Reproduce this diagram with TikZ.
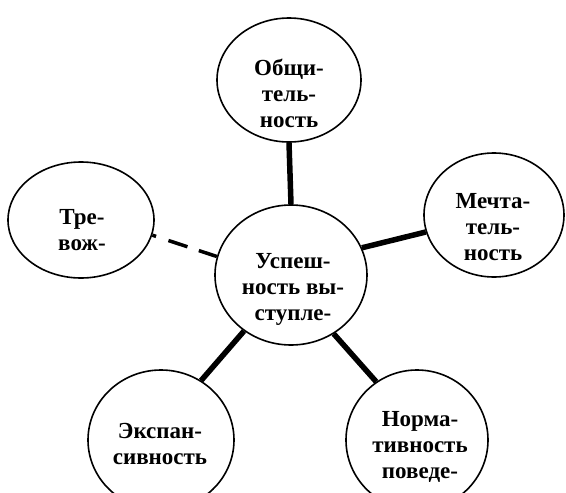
\documentclass[tikz,border=0pt]{standalone}
\usepackage{fontspec}
\setmainfont{Liberation Serif}
\usetikzlibrary{shapes.geometric}
\begin{document}
\begin{tikzpicture}[x=1pt,y=-1pt,
  bub/.style={draw=black, line width=1.6pt, ellipse, inner sep=0pt, fill=white},
  txt/.style={align=center, font=\fontsize{23}{26}\selectfont\bfseries, inner sep=0pt},
  link/.style={line width=5.5pt, black},
  dlink/.style={line width=3.5pt, black, dash pattern=on 4pt off 13pt on 20pt off 12pt on 20pt off 12pt}]
\useasboundingbox (0,0) rectangle (566,493);
\clip (0,0) rectangle (566,493);
\fill[white] (0,0) rectangle (566,493);
\node[bub, minimum width=144pt, minimum height=124pt] (A) at (289,80) {};
\node[bub, minimum width=140pt, minimum height=124pt] (B) at (494,215) {};
\node[bub, minimum width=146pt, minimum height=116pt] (C) at (81,220) {};
\node[bub, minimum width=152pt, minimum height=140pt] (D) at (291,275) {};
\node[bub, minimum width=146pt, minimum height=140pt] (E) at (161,440) {};
\node[bub, minimum width=142pt, minimum height=140pt] (F) at (417,440) {};
\draw[link] (A.-90) -- (D.90);
\draw[link] (D.21) -- (B.194);
\draw[dlink] (C.-12) -- (D.166);
\draw[link] (D.230) -- (E.56);
\draw[link] (D.-54) -- (F.125);
\node[txt] (At) at (289,93) {Общи-\\тель-\\ность};
\node[txt] (Bt) at (493,227) {Мечта-\\тель-\\ность};
\node[txt] (Ct) at (82,230) {Тре-\\вож-};
\node[txt] (Dt) at (293,289) {Успеш-\\ность вы-\\ступле-};
\node[txt] (Et) at (160,444) {Экспан-\\сивность};
\node[txt] (Ft) at (420,447) {Норма-\\тивность\\поведе-};
\end{tikzpicture}
\end{document}
